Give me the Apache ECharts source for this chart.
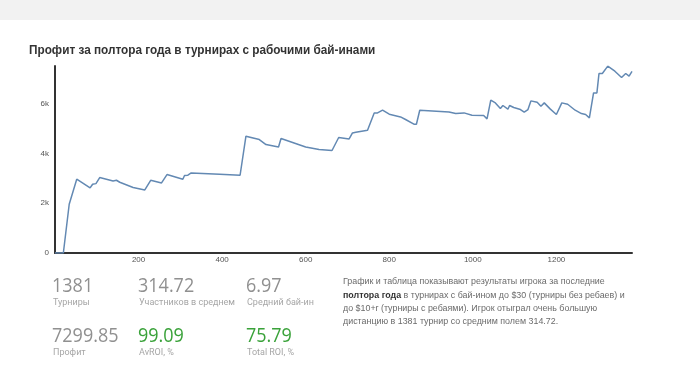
<!DOCTYPE html>
<html>
<head>
<meta charset="utf-8">
<script src="https://cdn.jsdelivr.net/npm/echarts@6/dist/echarts.min.js"></script>
<style>
  html, body { margin: 0; padding: 0; background: #fff; }
  #chart { width: 700px; height: 378px; }
</style>
</head>
<body>
<div id="chart"></div>
<script>
  // номер турнира и профит
  var tournaments = [0, 20, 34, 38, 52, 84, 90, 98, 107, 139, 147, 155, 187, 215, 229, 255, 268, 306, 310, 318, 326, 394, 443,
    457, 489, 505, 535, 541, 600, 632, 663, 679, 704, 712, 720, 748, 764, 772, 784, 800, 827, 839, 859, 865, 873,
    943, 959, 979, 998, 1026, 1034, 1043, 1054, 1066, 1072, 1084, 1088, 1098, 1114, 1123, 1132, 1139, 1154, 1163,
    1171, 1185, 1200, 1213, 1227, 1245, 1260, 1270, 1279, 1289, 1297, 1302, 1310, 1323, 1340, 1356, 1366, 1374, 1381];
  var profit = [0, 0, 1960, 1960, 2966, 2616, 2765, 2790, 3034, 2898, 2925, 2845, 2632, 2536, 2925, 2817, 3154, 2966, 3114, 3130, 3220, 3167, 3127,
    4696, 4563, 4362, 4266, 4603, 4266, 4161, 4121, 4644, 4588, 4829, 4855, 4938, 5634, 5634, 5742, 5582, 5473, 5368, 5179, 5179, 5742,
    5674, 5607, 5634, 5541, 5527, 5393, 6145, 6037, 5811, 5932, 5783, 5932, 5851, 5770, 5662, 5770, 6117, 6064, 5903,
    6037, 5795, 5569, 6037, 5983, 5742, 5607, 5569, 5433, 6439, 6439, 7219, 7219, 7513, 7312, 7058, 7219, 7111, 7300];

  var statValues = ['1381', '314.72', '6.97', '7299.85', '99.09', '75.79'];
  var statLabels = ['Турниры', 'Участников в среднем', 'Средний бай-ин', 'Профит', 'AvROI, %', 'Total ROI, %'];
  var statGreen = [false, false, false, false, true, true];

  var textLines = [
    'График и таблица показывают результаты игрока за последние',
    '{b|полтора года} в турнирах с бай-ином до $30 (турниры без ребаев) и',
    'до $10+r (турниры с ребаями). Игрок отыграл очень большую',
    'дистанцию в 1381 турнир со средним полем 314.72.'
  ];

  var points = tournaments.map(function (t, i) { return [t, profit[i]]; });

  var graphics = [
    { type: 'rect', left: 0, top: 0, shape: { width: 700, height: 20 }, style: { fill: '#f2f2f2' }, silent: true },
    {
      type: 'text', x: 29, y: 50, scaleX: 0.906,
      style: {
        text: 'Профит за полтора года в турнирах с рабочими бай-инами',
        fill: '#333', font: 'bold 13px "Liberation Sans"', verticalAlign: 'middle'
      }
    }
  ];
  var colX = [52, 138, 246];
  var rowY = [286, 336];
  statValues.forEach(function (v, i) {
    var c = i % 3, r = Math.floor(i / 3);
    graphics.push({
      type: 'text', x: colX[c], y: rowY[r], scaleX: 0.9,
      style: {
        text: v, fill: statGreen[i] ? '#3aa23a' : '#909090',
        font: '20px "Open Sans"', verticalAlign: 'middle'
      }
    });
    graphics.push({
      type: 'text', x: colX[c] + 1, y: rowY[r] + 17,
      style: {
        text: statLabels[i], fill: '#a6a6a6',
        font: '9px Roboto', verticalAlign: 'middle'
      }
    });
  });
  textLines.forEach(function (l, i) {
    graphics.push({
      type: 'text', x: 343, y: 282 + i * 13.3,
      style: {
        text: l, fill: '#6b6b6b', font: '8.9px "Liberation Sans"', verticalAlign: 'middle',
        rich: { b: { fontWeight: 'bold', fill: '#333', fontSize: 8.9, fontFamily: 'Liberation Sans' } }
      }
    });
  });

  var option = {
    backgroundColor: '#fff',
    animation: false,
    grid: { left: 55, right: 68, top: 66, bottom: 125 },
    xAxis: {
      type: 'value', min: 0, max: 1381, interval: 200,
      axisLine: { show: true, lineStyle: { color: '#333', width: 2 } },
      axisTick: { show: false },
      splitLine: { show: false },
      axisLabel: {
        color: '#555', fontSize: 8, margin: 3, showMinLabel: false, showMaxLabel: false,
        formatter: function (v) { return String(v); }
      }
    },
    yAxis: {
      type: 'value', min: 0, max: 7520, interval: 2000,
      axisLine: { show: true, lineStyle: { color: '#333', width: 2 } },
      axisTick: { show: false },
      splitLine: { show: false },
      axisLabel: {
        color: '#555', fontSize: 8, margin: 6, showMaxLabel: false,
        formatter: function (v) { return v === 0 ? '0' : (v / 1000) + 'k'; }
      }
    },
    series: [{
      type: 'line',
      data: points,
      symbol: 'none',
      lineStyle: { color: '#6389b3', width: 1.5 }
    }],
    graphic: graphics
  };

  var chartObj = echarts.init(document.getElementById('chart'));
  chartObj.setOption(option);
</script>
</body>
</html>
